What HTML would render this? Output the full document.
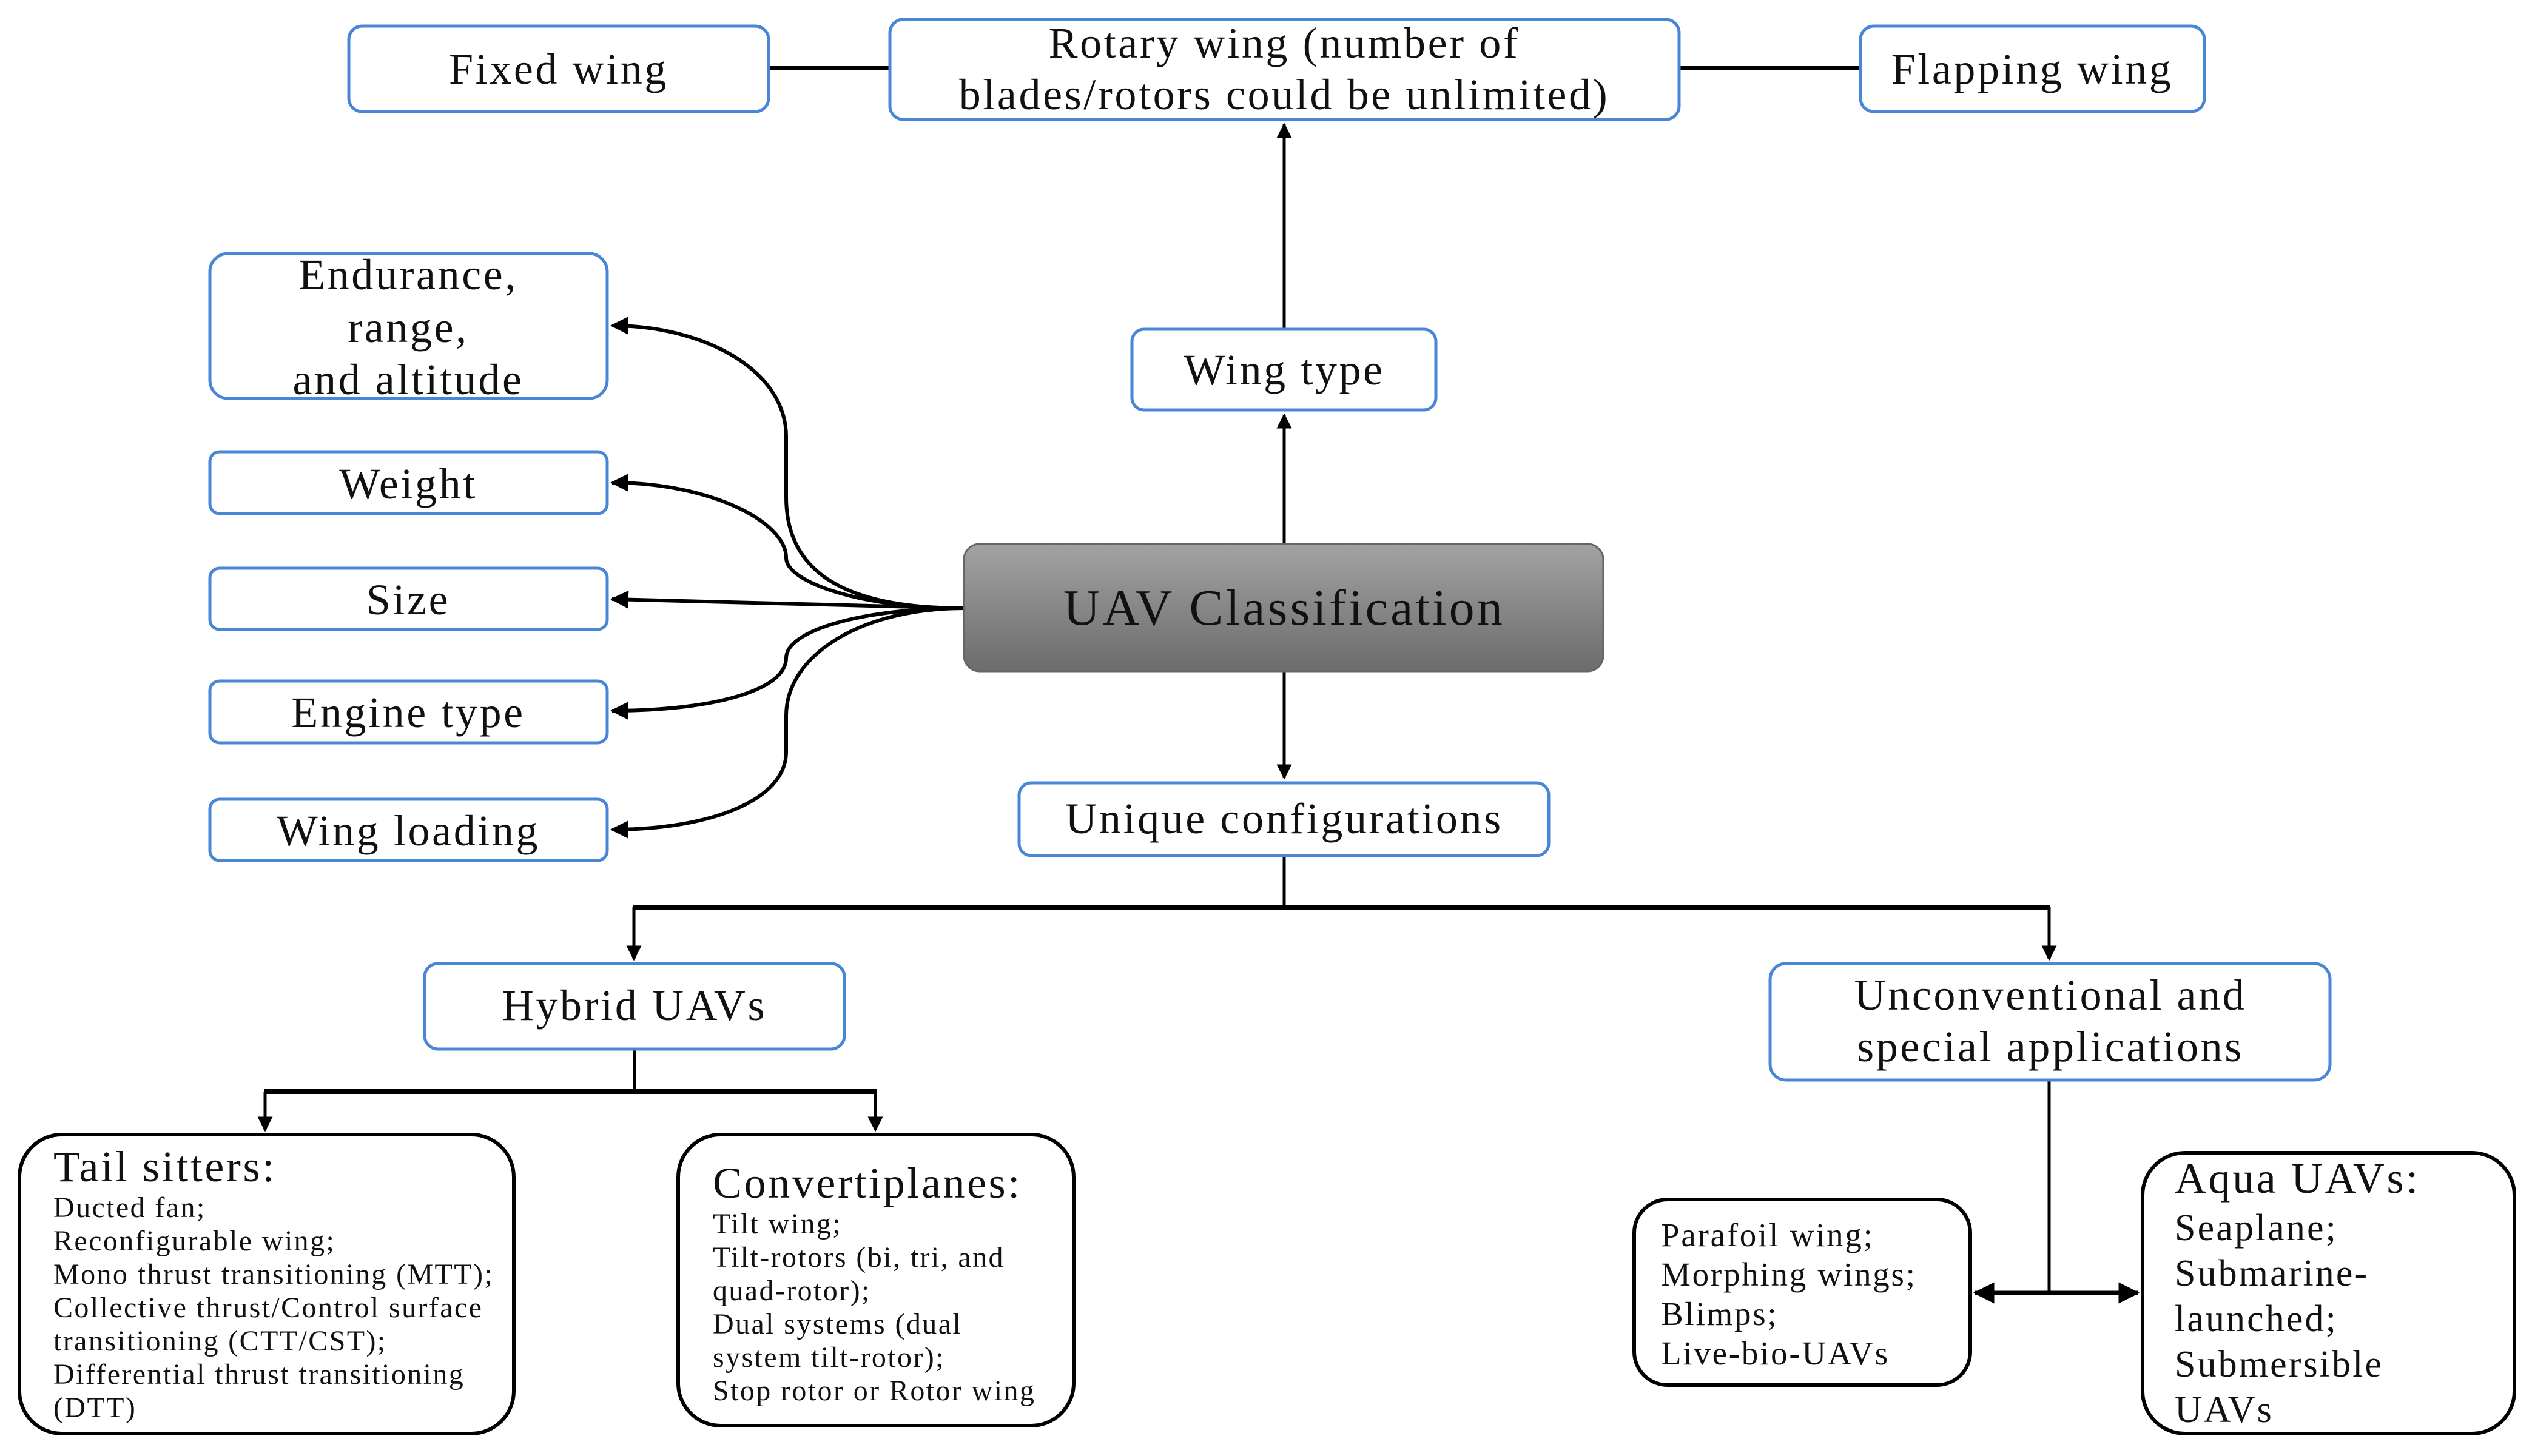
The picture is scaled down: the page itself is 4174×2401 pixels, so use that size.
<!DOCTYPE html>
<html><head><meta charset="utf-8"><style>
html,body{margin:0;padding:0;background:#fff}
svg{display:block}
text{font-family:"Liberation Serif",serif;fill:#111;letter-spacing:0.05em}
</style></head><body>
<svg width="4174" height="2401" viewBox="0 0 4174 2401" xmlns="http://www.w3.org/2000/svg">
<defs>
<linearGradient id="g" x1="0" y1="0" x2="0" y2="1"><stop offset="0" stop-color="#a2a2a2"/><stop offset="1" stop-color="#6c6c6c"/></linearGradient>
<marker id="b" viewBox="0 0 10 10" refX="9" refY="5" markerWidth="5" markerHeight="5" orient="auto-start-reverse"><path d="M0,0 L10,5 L0,10 z" fill="#000"/></marker>
</defs>
<g fill="none" stroke="#000">
<line x1="1267" y1="112" x2="1467" y2="112" stroke-width="6"/>
<line x1="2768" y1="112" x2="3067" y2="112" stroke-width="6"/>
<line x1="2117" y1="543" x2="2117" y2="205" stroke-width="5" marker-end="url(#b)"/>
<line x1="2117" y1="897" x2="2117" y2="684" stroke-width="5" marker-end="url(#b)"/>
<line x1="2117" y1="1107" x2="2117" y2="1283" stroke-width="5" marker-end="url(#b)"/>
<g stroke-width="6" marker-end="url(#b)">
<path d="M1589,1003 C1420,1003 1296,960 1296,820 L1296,720 C1296,610 1160,537 1009,537"/>
<path d="M1589,1003 C1420,1003 1296,960 1296,920 C1296,860 1170,796 1009,796"/>
<path d="M1589,1003 L1009,988"/>
<path d="M1589,1003 C1420,1003 1296,1040 1296,1085 C1296,1140 1170,1172 1009,1172"/>
<path d="M1589,1003 C1420,1003 1296,1080 1296,1180 L1296,1240 C1296,1320 1170,1368 1009,1368"/>
</g>
<line x1="2117" y1="1411" x2="2117" y2="1496" stroke-width="5"/>
<line x1="1043" y1="1496" x2="3380" y2="1496" stroke-width="8"/>
<line x1="1045" y1="1496" x2="1045" y2="1582" stroke-width="5" marker-end="url(#b)"/>
<line x1="3378" y1="1496" x2="3378" y2="1582" stroke-width="5" marker-end="url(#b)"/>
<line x1="1046" y1="1730" x2="1046" y2="1800" stroke-width="5"/>
<line x1="435" y1="1800" x2="1446" y2="1800" stroke-width="8"/>
<line x1="437" y1="1800" x2="437" y2="1864" stroke-width="5" marker-end="url(#b)"/>
<line x1="1443" y1="1800" x2="1443" y2="1864" stroke-width="5" marker-end="url(#b)"/>
<line x1="3378" y1="1781" x2="3378" y2="2132" stroke-width="5"/>
<line x1="3256" y1="2132" x2="3524" y2="2132" stroke-width="7" marker-start="url(#b)" marker-end="url(#b)"/>
</g>
<g fill="#fff" stroke="#4a86d8" stroke-width="5">
<rect x="575" y="43" width="692" height="141" rx="22"/>
<rect x="1467" y="32" width="1301" height="165" rx="22"/>
<rect x="3067" y="43" width="567" height="141" rx="22"/>
<rect x="346" y="418" width="655" height="239" rx="30"/>
<rect x="346" y="745" width="655" height="102" rx="16"/>
<rect x="346" y="937" width="655" height="101" rx="16"/>
<rect x="346" y="1123" width="655" height="102" rx="16"/>
<rect x="346" y="1318" width="655" height="101" rx="16"/>
<rect x="1866" y="543" width="501" height="133" rx="20"/>
<rect x="1680" y="1291" width="873" height="120" rx="20"/>
<rect x="700" y="1589" width="692" height="141" rx="22"/>
<rect x="2918" y="1589" width="923" height="192" rx="26"/>
</g>
<rect x="1589" y="897" width="1054" height="210" rx="26" fill="url(#g)" stroke="#666" stroke-width="3"/>
<g fill="#fff" stroke="#000" stroke-width="6">
<rect x="32" y="1871" width="815" height="493" rx="70"/>
<rect x="1118" y="1871" width="652" height="480" rx="70"/>
<rect x="2694" y="1978" width="554" height="306" rx="55"/>
<rect x="3532" y="1901" width="613" height="463" rx="70"/>
</g>
<g font-size="72" text-anchor="middle">
<text x="921" y="138">Fixed wing</text>
<text x="2117" y="95">Rotary wing (number of</text>
<text x="2117" y="180">blades/rotors could be unlimited)</text>
<text x="3350" y="138">Flapping wing</text>
<text x="673" y="477">Endurance,</text>
<text x="673" y="564">range,</text>
<text x="673" y="650">and altitude</text>
<text x="673" y="822">Weight</text>
<text x="673" y="1013">Size</text>
<text x="673" y="1199">Engine type</text>
<text x="673" y="1394">Wing loading</text>
<text x="2117" y="634">Wing type</text>
<text x="2117" y="1374">Unique configurations</text>
<text x="1046" y="1682">Hybrid UAVs</text>
<text x="3380" y="1665">Unconventional and</text>
<text x="3380" y="1750">special applications</text>
<text x="2117" y="1030" font-size="84">UAV Classification</text>
</g>
<text x="88" y="1948" font-size="72">Tail sitters:</text>
<g font-size="48">
<text x="88" y="2007">Ducted fan;</text>
<text x="88" y="2062">Reconfigurable wing;</text>
<text x="88" y="2117">Mono thrust transitioning (MTT);</text>
<text x="88" y="2172">Collective thrust/Control surface</text>
<text x="88" y="2227">transitioning (CTT/CST);</text>
<text x="88" y="2282">Differential thrust transitioning</text>
<text x="88" y="2337">(DTT)</text>
</g>
<text x="1175" y="1975" font-size="72">Convertiplanes:</text>
<g font-size="48">
<text x="1175" y="2034">Tilt wing;</text>
<text x="1175" y="2089">Tilt-rotors (bi, tri, and</text>
<text x="1175" y="2144">quad-rotor);</text>
<text x="1175" y="2199">Dual systems (dual</text>
<text x="1175" y="2254">system tilt-rotor);</text>
<text x="1175" y="2309">Stop rotor or Rotor wing</text>
</g>
<g font-size="55">
<text x="2738" y="2055">Parafoil wing;</text>
<text x="2738" y="2120">Morphing wings;</text>
<text x="2738" y="2185">Blimps;</text>
<text x="2738" y="2250">Live-bio-UAVs</text>
</g>
<text x="3585" y="1967" font-size="72">Aqua UAVs:</text>
<g font-size="62">
<text x="3585" y="2045">Seaplane;</text>
<text x="3585" y="2120">Submarine-</text>
<text x="3585" y="2195">launched;</text>
<text x="3585" y="2270">Submersible</text>
<text x="3585" y="2345">UAVs</text>
</g>
</svg>
</body></html>
